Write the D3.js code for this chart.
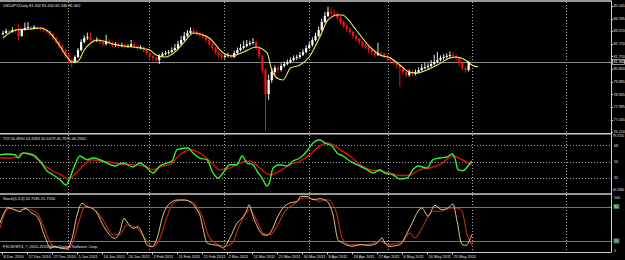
<!DOCTYPE html>
<html><head><meta charset="utf-8">
<script src="https://cdn.jsdelivr.net/npm/d3@7"></script>
<style>html,body{margin:0;padding:0;background:#000;}svg{display:block;}</style>
</head><body><svg id="c" width="625" height="260"></svg>
<script>
// ---------- DATA ----------
const symbolTitle = "USDJPY,Daily  81.342 81.450 81.346 81.362";
const tdiTitle = "TDI 56.4990 43.3333 30.1679 45.7975 46.2562";
const stochTitle = "Stoch(5,3,3) 32.7581 21.7556";
const copyright = "FXCM MT4, © 2001-2010 MetaQuotes Software Corp.";
const firstOpen = 83.45;
const closes = [83.53,83.68,83.60,83.75,83.68,83.30,83.75,83.90,83.97,83.90,
83.97,83.90,83.82,83.75,83.68,83.45,83.15,82.85,82.55,82.25,
81.88,81.51,81.36,81.73,82.25,82.85,83.15,83.23,83.00,82.93,
83.00,82.85,82.70,82.93,82.78,82.63,82.70,82.55,82.63,82.48,
82.55,82.70,82.55,82.40,82.48,82.25,82.03,81.81,81.66,81.51,
81.81,81.95,82.03,82.10,82.25,82.40,82.70,83.00,83.30,83.53,
83.68,83.60,83.45,83.38,83.23,83.00,82.70,82.40,82.10,81.88,
81.73,81.81,81.88,81.73,82.03,82.25,82.40,82.55,82.70,82.78,
82.85,82.40,81.81,80.76,78.96,80.01,80.61,80.91,80.76,81.06,
81.21,81.36,81.51,81.66,81.73,81.88,82.10,82.40,82.63,83.00,
83.30,83.75,84.35,84.80,85.10,85.02,84.95,84.65,84.35,84.05,
83.82,83.60,83.30,83.08,82.85,82.63,82.48,82.25,82.10,81.88,
82.03,81.95,81.81,81.66,81.51,81.36,81.13,80.91,80.61,80.38,
80.61,80.46,80.61,80.76,80.91,80.98,81.06,81.21,81.36,81.51,
81.66,81.73,81.81,81.88,81.81,81.66,81.28,80.91,80.76,81.36];
const highs = [83.70,83.85,83.80,83.95,83.85,84.20,83.85,84.30,84.35,84.05,
84.10,84.05,84.00,83.95,83.85,83.75,83.55,83.25,82.95,82.65,
82.35,82.00,81.65,81.85,82.40,83.05,83.35,83.55,83.55,83.10,
83.20,83.10,82.95,83.40,83.05,82.90,82.85,82.80,82.80,82.75,
82.70,83.00,82.85,82.65,82.60,82.55,82.35,82.10,81.90,81.75,
81.95,82.10,82.20,82.25,82.45,82.70,82.95,83.30,83.60,83.75,
83.95,83.90,83.75,83.60,83.50,83.35,83.10,82.80,82.50,82.20,
81.95,81.95,82.05,81.95,82.20,82.45,82.70,82.95,83.00,82.95,
83.15,82.95,82.50,81.90,80.85,80.40,80.90,81.10,81.05,81.25,
81.40,81.55,81.70,81.85,81.90,82.10,82.30,82.60,82.85,83.20,
83.55,84.00,84.60,85.10,85.50,85.45,85.30,85.10,84.80,84.45,
84.15,83.95,83.70,83.40,83.15,82.95,82.75,82.55,82.35,82.20,
82.80,82.15,82.05,81.90,81.75,81.60,81.45,81.20,81.00,80.70,
80.80,80.75,80.80,80.95,81.20,81.30,81.25,81.50,81.90,82.10,
81.85,81.95,82.00,82.15,82.10,81.90,81.75,81.35,81.00,81.45];
const lows = [83.35,83.45,83.50,83.55,83.58,83.00,83.25,83.70,83.80,83.75,
83.85,83.80,83.70,83.60,83.50,83.30,83.00,82.70,82.40,82.05,
81.70,81.25,80.95,81.25,81.65,82.15,82.75,83.00,82.90,82.80,
82.85,82.70,82.55,82.60,82.65,82.45,82.50,82.40,82.45,82.35,
82.40,82.45,82.40,82.25,82.30,82.10,81.90,81.65,81.45,81.30,
81.20,81.70,81.85,81.90,82.00,82.15,82.30,82.60,82.90,83.20,
83.45,83.45,83.30,83.20,83.10,82.85,82.55,82.25,81.95,81.70,
81.55,81.60,81.70,81.60,81.65,81.95,82.15,82.30,82.45,82.55,
82.65,82.25,81.60,80.50,76.25,78.50,79.80,80.40,80.55,80.65,
80.95,81.10,81.25,81.40,81.50,81.60,81.80,82.00,82.30,82.50,
82.90,83.20,83.65,84.25,84.70,84.85,84.75,84.50,84.15,83.90,
83.60,83.40,83.10,82.90,82.65,82.45,82.30,82.05,81.90,81.70,
81.80,81.80,81.65,81.45,81.30,81.15,80.90,79.50,80.40,80.20,
80.25,80.30,80.35,80.50,80.65,80.80,80.85,80.95,81.10,81.25,
81.40,81.50,81.60,81.65,81.60,81.45,81.10,80.75,80.55,80.65];
// moving average (yellow) read at bar positions
const maBars = [0,4,8.6,12,15,18,20.5,22,24,26,28.5,30,36.5,44,47,49,52,55,58,61,63,66,70.5,73,77,81,84.5,86,87.7,89.6,92,95,98,101.4,104,107,108.5,113,117.4,120.6,124,127,130,132.5,135.7,139,143,145,148,150,152];
const maVals = [83.15,83.75,83.82,83.90,83.53,82.63,81.73,81.36,81.43,82.25,82.85,83.00,82.63,82.40,82.25,81.88,81.73,82.10,82.85,83.53,83.45,83.15,82.03,81.81,82.10,82.48,82.03,80.76,80.16,80.01,80.91,81.13,81.73,83.23,84.50,84.87,84.87,83.75,82.48,81.88,81.66,81.13,80.61,80.53,80.76,81.13,81.66,81.73,81.51,81.13,80.98];
const lastPrice = 81.361;
const priceTicks = [85.545,84.595,83.670,82.720,81.770,80.820,79.895,78.945,77.995,77.045,76.120];
// TDI
const tdiGreenBars = [-1,1.3,3.8,4.8,6.4,9.6,11.8,14.1,16,18.2,20.2,21.4,23,24.6,26.9,28.8,31,33.3,35.8,38.4,41.6,43.8,46.1,48,50.2,52.5,54.1,55.7,59.2,60.8,63,65.3,67.2,68.8,70.4,72.6,74.9,76.5,78.1,80,81.3,82.9,84.5,85.4,86.4,88.6,90.9,92.8,95,97.3,99.2,101.4,103,105.3,106.9,108.8,111,113.3,116.5,118.4,120.6,122.2,124.8,127,129.3,131.2,132.8,135.7,137.6,139.8,142.1,143.7,144.6,145.6,147.2,148.8,150];
const tdiGreenVals = [57.6,58.4,57.6,54.0,59.5,57.6,50.7,39.8,35.7,30.3,24.5,32.1,46.7,56.2,52.1,54.0,52.1,48.5,45.3,48.5,44.2,48.5,43.1,37.6,45.3,48.5,50.7,63.1,64.9,59.5,54.0,52.1,37.6,32.1,37.6,46.7,46.7,56.2,48.5,46.7,39.8,32.1,23.4,28.8,43.1,46.7,45.3,50.7,54.0,61.7,70.4,74.0,70.4,67.1,59.5,56.2,50.7,46.7,41.2,37.6,41.2,37.6,35.7,31.0,32.1,41.2,45.3,43.1,52.1,54.0,55.1,58.4,54.0,41.2,40.1,45.3,50.7];
const tdiRedBars = [-1,3.2,6.4,9.6,12.8,16,19.2,20.8,22.4,25.6,28.5,31,34.2,37.4,41.6,46.1,48,51.2,53.4,56.6,59.8,63,66.2,69.4,72.6,75.8,79,82.2,85.4,88.6,91.8,95,98.2,101.4,103.7,105.6,107.8,111,114.2,117.4,120.6,123.8,127,130.2,133.4,136.6,139.8,144,146.9,150];
const tdiRedVals = [54.0,54.0,59.5,56.2,46.7,39.8,34.3,30.3,34.3,45.3,52.1,50.7,49.6,47.4,46.7,44.2,41.2,45.3,46.7,57.6,63.1,59.5,50.7,41.2,43.1,48.5,50.7,43.1,35.7,39.8,46.7,50.7,57.6,67.1,70.4,68.6,63.1,56.2,46.7,41.2,39.8,37.6,34.8,35.4,41.2,43.1,46.7,56.2,52.1,46.7];
const tdiLevels = [68,50,32];
const tdiRange = [16.258,79.725];
// Stochastic
const stMainBars = [-1,0,1.6,3.8,5.4,7,9.3,10.9,11.8,12.8,14.1,15,16.6,18.9,20.5,22.1,23.7,25.3,26.9,28.5,30.1,31.7,33.3,35.8,37.4,38.7,40,41.6,43.2,44.8,46.1,47.7,49.3,51.2,53.4,55.7,58.2,60.5,62.1,63,64,65.3,67.2,69.4,70.4,72.6,74.9,76.5,78.1,78.7,80,81.6,83.2,84.5,86.1,87.7,89.6,91.8,94.1,95.3,97.3,99.2,101.4,103.7,105.6,107.2,108.8,111.7,114.2,117.4,119.7,121.3,122.2,123.8,127,129.3,131.2,132.8,134.1,136,138.2,140.4,142.4,144,145.3,146.9,148.2,150];
const stMainVals = [50.8,65.2,77.9,73.9,71.0,76.9,68.2,62.3,53.6,36.2,18.8,7.3,10.1,7.3,6.1,24.7,65.2,85.6,79.7,76.9,68.2,50.8,36.2,24.7,36.2,59.5,50.8,42.1,44.9,30.4,13.0,10.1,24.7,65.2,85.6,91.3,91.3,85.6,73.9,65.2,42.6,16.5,13.6,10.8,7.8,25.2,51.3,60.0,74.4,83.1,63.0,42.6,31.0,29.9,39.7,60.0,77.4,86.1,89.0,97.7,97.7,91.8,93.6,89.0,65.7,22.3,16.5,10.8,13.6,12.5,16.5,25.2,16.5,10.8,13.6,33.9,54.3,71.7,77.4,63.0,82.1,74.4,77.4,84.3,54.3,13.6,12.5,31.0];
const stSigBars = [-1,0.6,2.2,4.5,7.7,10.9,12.8,15,16.6,20.5,22.4,24.6,26.2,28.8,32,35.2,37.4,39.7,42.9,46.1,48,50.2,52.5,54.4,57.3,60.5,62.4,64,65.6,67.8,71,73.3,75.8,79,81.3,83.2,85.4,87.7,90.2,92.8,96,98.2,101.4,104,106.9,108.5,111,116.5,120.6,123.8,128,130.2,131.8,134.4,137.3,139.8,143,145.3,146.9,148.5,150];
const stSigVals = [42.1,68.2,76.9,73.9,75.7,68.2,47.8,18.8,10.1,7.3,18.8,59.5,79.7,76.9,56.5,30.4,31.7,47.8,42.1,18.8,10.1,24.7,62.3,85.6,91.3,88.3,76.9,60.0,31.0,16.5,10.8,16.5,48.3,74.4,54.3,33.9,31.0,45.6,71.7,83.1,94.8,94.8,89.0,91.8,65.7,25.2,13.6,13.6,19.5,13.6,19.5,33.9,25.2,45.6,71.7,71.7,77.4,77.4,71.7,31.0,13.6,22.3];
const stLevels = [80,20];
const stTicks = [100,0];
// time axis
const dateBars = [0,8,16,24,32,40,48,56,64,72,80,88,96,104,112,120,128,136,144];
const dateLabels = ["8 Dec 2010","17 Dec 2010","27 Dec 2010","5 Jan 2011","14 Jan 2011","24 Jan 2011","2 Feb 2011","11 Feb 2011","21 Feb 2011","2 Mar 2011","11 Mar 2011","21 Mar 2011","30 Mar 2011","8 Apr 2011","18 Apr 2011","27 Apr 2011","6 May 2011","16 May 2011","25 May 2011"];
const gridBars = [20.8,46.6,70.7,98,123.3,150,180];

// ---------- DRAW ----------
const svg = d3.select('#c');
const W = 625, H = 260, R = 611;
const FONT = "'Liberation Sans', Arial, sans-serif";
const FS = 3.95, FSA = 3.7;
svg.append('rect').attr('width', W).attr('height', H).attr('fill', '#000');

const x = d3.scaleLinear().domain([0, 1]).range([3, 6.125]);
const yP = d3.scaleLinear().domain([76.12, 85.545]).range([132, 6]);
const yT = d3.scaleLinear().domain(tdiRange).range([192.5, 134.5]);
const yS = d3.scaleLinear().domain([0, 100]).range([252.5, 195]);

const panels = [{id:'p1', y0:2, y1:133}, {id:'p2', y0:135, y1:193}, {id:'p3', y0:195, y1:252}];
const defs = svg.append('defs');
panels.forEach(p => defs.append('clipPath').attr('id', p.id).append('rect')
  .attr('x', 0).attr('y', p.y0).attr('width', R).attr('height', p.y1 - p.y0));

// vertical dotted grid
panels.forEach(p => {
  svg.append('g').selectAll('line').data(gridBars).join('line')
    .attr('x1', d => Math.round(x(d)) + 0.5).attr('x2', d => Math.round(x(d)) + 0.5)
    .attr('y1', p.y0).attr('y2', p.y1)
    .attr('stroke', '#b0b0b0').attr('stroke-width', 1).attr('stroke-dasharray', '1,2');
});

// TDI levels
svg.append('g').selectAll('line').data(tdiLevels).join('line')
  .attr('x1', 0).attr('x2', R).attr('y1', d => Math.round(yT(d)) + 0.5).attr('y2', d => Math.round(yT(d)) + 0.5)
  .attr('stroke', '#9a9a9a').attr('stroke-dasharray', '1,2');
// Stoch levels
svg.append('g').selectAll('line').data(stLevels).join('line')
  .attr('x1', 0).attr('x2', R).attr('y1', d => Math.round(yS(d)) + 0.5).attr('y2', d => Math.round(yS(d)) + 0.5)
  .attr('stroke', '#5f8a5f').attr('stroke-width', 1);

// current price line
svg.append('line').attr('x1', 0).attr('x2', R)
  .attr('y1', Math.round(yP(lastPrice)) + 0.5).attr('y2', Math.round(yP(lastPrice)) + 0.5)
  .attr('stroke', '#8c8c8c').attr('stroke-width', 1);

// candles
const bars = closes.map((c, i) => ({i, o: i === 0 ? firstOpen : closes[i - 1], c, h: highs[i], l: lows[i]}));
const cg = svg.append('g').attr('clip-path', 'url(#p1)');
cg.selectAll('line.w').data(bars).join('line').attr('class', 'w')
  .attr('x1', d => x(d.i)).attr('x2', d => x(d.i))
  .attr('y1', d => yP(d.h)).attr('y2', d => yP(d.l))
  .attr('stroke', d => d.c >= d.o ? '#ffffff' : '#ff1a1a').attr('stroke-width', 0.9);
cg.selectAll('rect.b').data(bars).join('rect').attr('class', 'b')
  .attr('x', d => x(d.i) - 1.1).attr('width', 2.2)
  .attr('y', d => yP(Math.max(d.o, d.c)))
  .attr('height', d => Math.max(1, Math.abs(yP(d.o) - yP(d.c))))
  .attr('fill', d => d.c >= d.o ? '#ffffff' : '#ee1111');

// MA
const maData = maBars.map((b, k) => [b, maVals[k]]);
svg.append('path').attr('clip-path', 'url(#p1)')
  .attr('d', d3.line().x(d => x(d[0])).y(d => yP(d[1])).curve(d3.curveMonotoneX)(maData))
  .attr('fill', 'none').attr('stroke', '#f2ee5a').attr('stroke-width', 1.1);

// indicator lines
function series(bs, vs, sc, color, w, clip) {
  const data = bs.map((b, k) => [b, vs[k]]);
  svg.append('path').attr('clip-path', 'url(#' + clip + ')')
    .attr('d', d3.line().x(d => x(d[0])).y(d => sc(d[1])).curve(d3.curveMonotoneX)(data))
    .attr('fill', 'none').attr('stroke', color).attr('stroke-width', w);
}
series(tdiRedBars, tdiRedVals, yT, '#d81010', 1.4, 'p2');
series(tdiGreenBars, tdiGreenVals, yT, '#33ee33', 1.4, 'p2');
series(stSigBars, stSigVals, yS, '#c42a10', 1.1, 'p3');
series(stMainBars, stMainVals, yS, '#dccb88', 1.0, 'p3');

// panel frames / separators
svg.append('line').attr('x1', 0).attr('x2', R).attr('y1', 1).attr('y2', 1).attr('stroke', '#c8c8c8').attr('stroke-width', 1.5);
[133.8, 194].forEach(yy => svg.append('line').attr('x1', 0).attr('x2', R).attr('y1', yy).attr('y2', yy)
  .attr('stroke', '#c8c8c8').attr('stroke-width', 1.6));
svg.append('line').attr('x1', 0).attr('x2', R).attr('y1', 252.5).attr('y2', 252.5).attr('stroke', '#d0d0d0');
svg.append('line').attr('x1', R + 0.5).attr('x2', R + 0.5).attr('y1', 0.5).attr('y2', 252.5).attr('stroke', '#d0d0d0');

// text helper
const txt = (g, s, xx, yy, fs, fill) => g.append('text').text(s).attr('x', xx).attr('y', yy)
  .attr('fill', fill || '#e0e0e0').attr('font-family', FONT).attr('font-size', fs || FS);
// right axis labels
const ax = svg.append('g');
priceTicks.forEach(v => {
  ax.append('line').attr('x1', R).attr('x2', R + 2).attr('y1', Math.round(yP(v)) + 0.5).attr('y2', Math.round(yP(v)) + 0.5).attr('stroke', '#d0d0d0');
  txt(ax, v.toFixed(3), R + 2.5, yP(v) + 1.3, FSA);
});
// current price tag
ax.append('rect').attr('x', R + 1.5).attr('y', yP(lastPrice) - 2.6).attr('width', 12).attr('height', 5.2).attr('fill', '#000').attr('stroke', '#d8d8d8').attr('stroke-width', 0.7);
txt(ax, lastPrice.toFixed(3), R + 2.5, yP(lastPrice) + 1.3, FSA, '#ffffff');
// TDI axis
txt(ax, tdiRange[1].toFixed(4), R + 1.5, 137, 3.2);
txt(ax, tdiRange[0].toFixed(4), R + 1.5, 191, 3.2);
tdiLevels.forEach(v => txt(ax, String(v), R + 3, yT(v) + 1.3, FSA));
// Stoch axis
stTicks.forEach(v => txt(ax, String(v), R + 3, v === 100 ? 198.5 : 251.5, FSA));
stLevels.forEach(v => {
  ax.append('rect').attr('x', R + 2.5).attr('y', yS(v) - 2.5).attr('width', 6).attr('height', 5).attr('fill', '#2f7f4f');
  txt(ax, String(v), R + 3, yS(v) + 1.3, FSA, '#e8e8e8');
});

// titles
txt(svg, symbolTitle, 3, 6.5);
txt(svg, tdiTitle, 3, 139.5);
txt(svg, stochTitle, 3, 200);
txt(svg, copyright, 3, 247.5);

// date axis
const dg = svg.append('g');
dateBars.forEach((b, k) => {
  dg.append('line').attr('x1', Math.round(x(b)) - 0.5).attr('x2', Math.round(x(b)) - 0.5).attr('y1', 252.5).attr('y2', 254.5).attr('stroke', '#d0d0d0');
  txt(dg, dateLabels[k], Math.round(x(b)) + 0.5, 257.5);
});
</script></body></html>
